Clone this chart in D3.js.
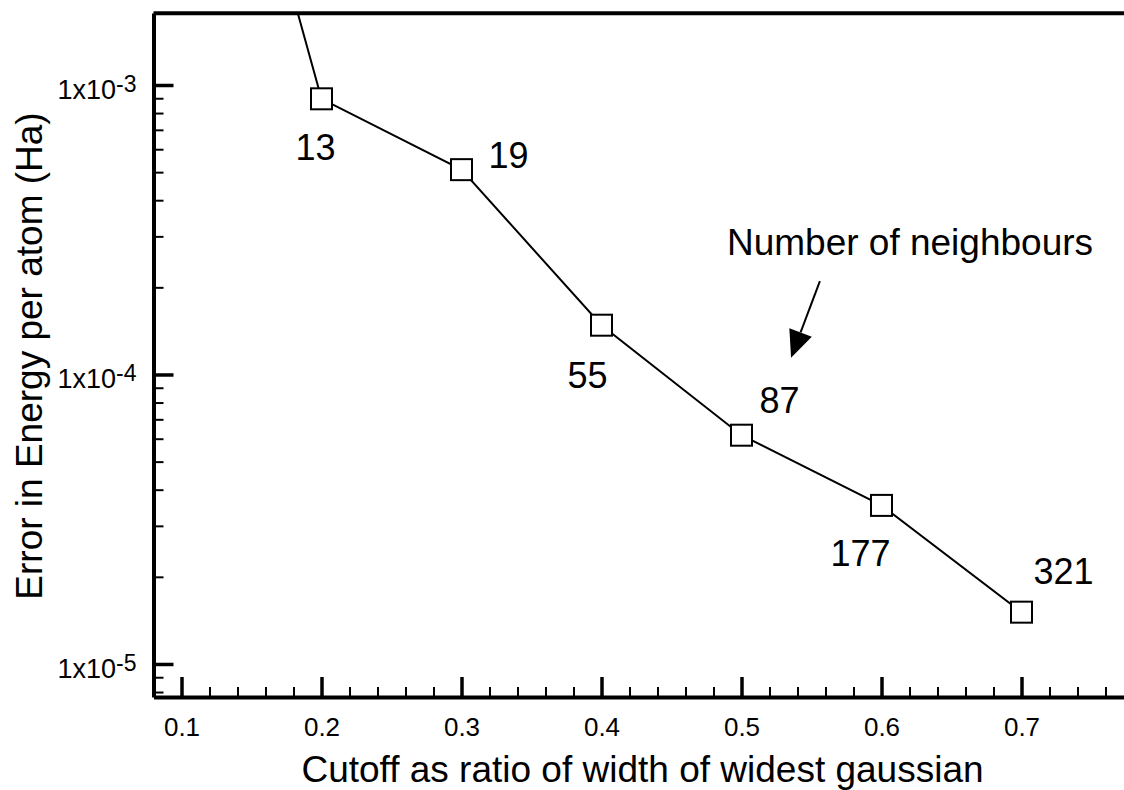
<!DOCTYPE html>
<html>
<head>
  <meta charset="utf-8">
  <style>
  body { margin: 0; background: #fff; }
  text { font-family: "Liberation Sans", Arial, Helvetica, sans-serif; fill: #000; }
  .line { fill: none; stroke: #000; stroke-width: 2px; }
  </style>
  <script src="https://d3js.org/d3.v7.min.js"></script>
</head>
<body>
<svg id="chart"></svg>
<script>

// data
var cutoff = [0.1, 0.2, 0.3, 0.4, 0.5, 0.6, 0.7];
var energyError = [5.0e-2, 8.96e-4, 5.1e-4, 1.48e-4, 6.17e-5, 3.53e-5, 1.51e-5];
var neighbours = ["", "13", "19", "55", "87", "177", "321"];

var xMajorTicks = [0.1, 0.2, 0.3, 0.4, 0.5, 0.6, 0.7];
var yMajorTicks = [1e-5, 1e-4, 1e-3];
var yTickExp = ["-5", "-4", "-3"];

// where each neighbour count sits relative to its marker (px)
var labelShift = [[0, 0], [-6, 61], [47, -2], [-14, 63], [38, -22], [-21, 61], [42, -28]];

// annotation, in data coordinates
var noteText = "Number of neighbours";
var notePos = [0.4896, 2.59e-4];
var arrowFrom = [0.556, 2.10e-4];
var arrowTo = [0.5354, 1.143e-4];

var margin = {top: 13, right: 0, bottom: 93, left: 153.5},
    width = 1008,
    height = 790 - margin.top - margin.bottom;

var x = d3.scaleLinear().domain([0.08, 0.8]).range([0, width]);
var y = d3.scaleLog().domain([7.69e-6, 1.773e-3]).range([height, 0]);

var svg = d3.select("#chart")
    .attr("width", 1124)
    .attr("height", 790)
  .append("g")
    .attr("transform", "translate(" + margin.left + "," + margin.top + ")");

svg.append("clipPath").attr("id", "plotclip")
  .append("rect")
    .attr("x", 0).attr("y", 0)
    .attr("width", width).attr("height", height);

// minor ticks
var xMinor = d3.range(0.08, 0.8001, 0.02).map(function(d) { return +d.toFixed(2); })
    .filter(function(d) { return xMajorTicks.indexOf(d) < 0 && d < 0.79; });
var yMinor = [];
[1e-6, 1e-5, 1e-4, 1e-3].forEach(function(dec) {
  for (var k = 2; k <= 9; k++) {
    var v = k * dec;
    if (v >= y.domain()[0] && v <= y.domain()[1]) yMinor.push(v);
  }
});

var xMinorAxis = svg.append("g")
    .attr("transform", "translate(0," + height + ")")
    .call(d3.axisBottom(x).tickValues(xMinor).tickSize(-10).tickFormat(""));
xMinorAxis.select(".domain").remove();
xMinorAxis.selectAll("line").attr("stroke-width", 2);

var yMinorAxis = svg.append("g")
    .call(d3.axisLeft(y).tickValues(yMinor).tickSize(-10).tickFormat(""));
yMinorAxis.select(".domain").remove();
yMinorAxis.selectAll("line").attr("stroke-width", 2);

// major x axis
var xGroup = svg.append("g")
    .attr("transform", "translate(0," + height + ")")
    .call(d3.axisBottom(x).tickValues(xMajorTicks).tickSize(-20).tickSizeOuter(0)
      .tickPadding(21).tickFormat(d3.format(".1f")));
xGroup.select(".domain").attr("stroke-width", 4);
xGroup.selectAll("line").attr("stroke-width", 3.5);
xGroup.selectAll("text")
    .style("font-size", "26px")
    .style("font-family", "'Liberation Sans', Arial, Helvetica, sans-serif")
    .attr("fill", "#000");

// major y axis
var yGroup = svg.append("g")
    .call(d3.axisLeft(y).tickValues(yMajorTicks).tickSize(-20).tickSizeOuter(0)
      .tickPadding(17).tickFormat(""));
yGroup.select(".domain").attr("stroke-width", 4);
yGroup.selectAll("line").attr("stroke-width", 3.5);
yGroup.selectAll(".tick text").each(function(d, i) {
  var t = d3.select(this)
      .attr("dy", "13.5px")
      .attr("fill", "#000")
      .style("font-family", "'Liberation Sans', Arial, Helvetica, sans-serif")
      .style("font-size", "27px");
  t.append("tspan").text("1x10");
  t.append("tspan").attr("dy", "-7px").style("font-size", "23px").text(yTickExp[i]);
});

// top frame line
svg.append("line")
    .attr("x1", 0).attr("x2", width)
    .attr("y1", 0.3).attr("y2", 0.3)
    .attr("stroke", "#000").attr("stroke-width", 4);

// data line + markers
var data = cutoff.map(function(c, i) {
  return {x: c, y: energyError[i], n: neighbours[i], shift: labelShift[i]};
});

var plot = svg.append("g").attr("clip-path", "url(#plotclip)");

plot.append("path")
    .datum(data)
    .attr("class", "line")
    .attr("d", d3.line()
      .x(function(d) { return x(d.x); })
      .y(function(d) { return y(d.y); }));

var markerSize = 21;
plot.selectAll(".mark")
    .data(data)
  .enter().append("rect")
    .attr("class", "mark")
    .attr("x", function(d) { return x(d.x) - markerSize / 2; })
    .attr("y", function(d) { return y(d.y) - markerSize / 2; })
    .attr("width", markerSize)
    .attr("height", markerSize)
    .attr("fill", "#fff")
    .attr("stroke", "#000")
    .attr("stroke-width", 2);

plot.selectAll(".nlabel")
    .data(data.filter(function(d) { return d.n; }))
  .enter().append("text")
    .attr("class", "nlabel")
    .attr("x", function(d) { return x(d.x) + d.shift[0]; })
    .attr("y", function(d) { return y(d.y) + d.shift[1]; })
    .attr("text-anchor", "middle")
    .style("font-size", "36px")
    .text(function(d) { return d.n; });

// annotation
svg.append("text")
    .attr("x", x(notePos[0]))
    .attr("y", y(notePos[1]))
    .style("font-size", "37px")
    .text(noteText);

var ax0 = x(arrowFrom[0]), ay0 = y(arrowFrom[1]),
    ax1 = x(arrowTo[0]), ay1 = y(arrowTo[1]);
var ang = Math.atan2(ay1 - ay0, ax1 - ax0);
var headLen = 27, headHalf = 12;
var bx = ax1 - headLen * Math.cos(ang), by = ay1 - headLen * Math.sin(ang);

svg.append("line")
    .attr("x1", ax0).attr("y1", ay0)
    .attr("x2", bx).attr("y2", by)
    .attr("stroke", "#000").attr("stroke-width", 2);

svg.append("path")
    .attr("d", d3.line()([
      [ax1, ay1],
      [bx + headHalf * Math.sin(ang), by - headHalf * Math.cos(ang)],
      [bx - headHalf * Math.sin(ang), by + headHalf * Math.cos(ang)]
    ]) + "Z")
    .attr("fill", "#000");

// axis titles
svg.append("text")
    .attr("x", 642.5 - margin.left)
    .attr("y", 782 - margin.top)
    .attr("text-anchor", "middle")
    .style("font-size", "37px")
    .text("Cutoff as ratio of width of widest gaussian");

svg.append("text")
    .attr("transform", "rotate(-90)")
    .attr("x", -(356 - margin.top))
    .attr("y", 42 - margin.left)
    .attr("text-anchor", "middle")
    .style("font-size", "37px")
    .text("Error in Energy per atom (Ha)");

</script>
</body>
</html>
